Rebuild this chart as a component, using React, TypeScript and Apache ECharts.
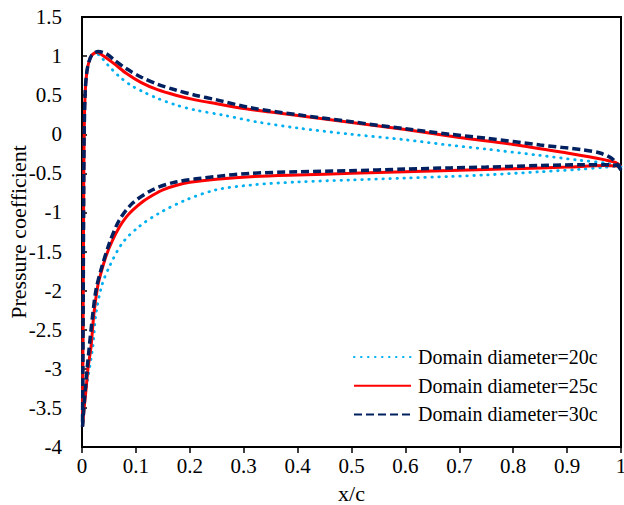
import React, { useEffect, useRef } from "react";
import * as echarts from "echarts";

// Domain diameter = 20c
const upper20X = [0.001, 0.002, 0.003, 0.004, 0.006, 0.009, 0.013, 0.018, 0.025, 0.035, 0.048, 0.069, 0.09, 0.113, 0.14, 0.174, 0.21, 0.261, 0.323, 0.4, 0.5, 0.6, 0.683, 0.75, 0.85, 0.92, 0.973, 1.0];
const upper20Y = [-3.74, -2.5, -1.0, 0.0, 0.55, 0.8, 0.93, 1.01, 1.04, 0.99, 0.886, 0.74, 0.63, 0.545, 0.46, 0.375, 0.31, 0.246, 0.16, 0.08, 0.0, -0.07, -0.14, -0.19, -0.27, -0.33, -0.37, -0.41];
const lower20X = [0.001, 0.004, 0.0105, 0.02, 0.026, 0.037, 0.051, 0.075, 0.106, 0.143, 0.193, 0.249, 0.312, 0.4, 0.497, 0.6, 0.683, 0.75, 0.85, 0.92, 0.973, 1.0];
const lower20Y = [-3.74, -3.45, -3.14, -2.72, -2.29, -1.93, -1.69, -1.39, -1.18, -1.01, -0.84, -0.71, -0.65, -0.61, -0.585, -0.56, -0.54, -0.52, -0.48, -0.45, -0.42, -0.41];

// Domain diameter = 25c
const upper25X = [0.001, 0.002, 0.003, 0.004, 0.006, 0.009, 0.013, 0.018, 0.028, 0.04, 0.06, 0.082, 0.11, 0.14, 0.174, 0.21, 0.25, 0.3, 0.35, 0.4, 0.5, 0.6, 0.7, 0.8, 0.9, 0.95, 0.99, 1.0];
const upper25Y = [-3.74, -2.5, -1.0, 0.0, 0.55, 0.8, 0.93, 1.01, 1.05, 1.0, 0.9, 0.78, 0.66, 0.57, 0.5, 0.44, 0.39, 0.33, 0.285, 0.24, 0.15, 0.06, -0.04, -0.13, -0.24, -0.3, -0.36, -0.41];
const lower25X = [0.001, 0.004, 0.0074, 0.011, 0.0167, 0.022, 0.029, 0.035, 0.045, 0.057, 0.07, 0.082, 0.094, 0.113, 0.131, 0.15, 0.174, 0.2, 0.249, 0.32, 0.4, 0.5, 0.6, 0.7, 0.8, 0.9, 0.97, 1.0];
const lower25Y = [-3.74, -3.5, -3.27, -3.0, -2.72, -2.3, -1.95, -1.78, -1.55, -1.35, -1.18, -1.06, -0.97, -0.86, -0.78, -0.71, -0.655, -0.615, -0.575, -0.54, -0.52, -0.5, -0.48, -0.46, -0.44, -0.42, -0.4, -0.41];

// Domain diameter = 30c
const upper30X = [0.001, 0.002, 0.003, 0.004, 0.006, 0.009, 0.013, 0.018, 0.03, 0.045, 0.06, 0.082, 0.11, 0.14, 0.174, 0.21, 0.25, 0.312, 0.4, 0.5, 0.6, 0.683, 0.75, 0.85, 0.93, 0.961, 0.985, 1.0];
const upper30Y = [-3.74, -2.5, -1.0, 0.0, 0.55, 0.8, 0.93, 1.01, 1.06, 1.03, 0.95, 0.84, 0.73, 0.64, 0.566, 0.5, 0.44, 0.34, 0.25, 0.16, 0.07, 0.0, -0.05, -0.137, -0.2, -0.24, -0.32, -0.46];
const lower30X = [0.001, 0.006, 0.0135, 0.02, 0.026, 0.035, 0.051, 0.069, 0.094, 0.131, 0.174, 0.249, 0.312, 0.4, 0.497, 0.6, 0.683, 0.75, 0.85, 0.93, 0.97, 1.0];
const lower30Y = [-3.74, -3.27, -2.72, -2.3, -1.99, -1.74, -1.39, -1.1, -0.88, -0.71, -0.61, -0.54, -0.5, -0.48, -0.466, -0.445, -0.43, -0.42, -0.4, -0.39, -0.39, -0.4];

const seriesNames = ["Domain diameter=20c", "Domain diameter=25c", "Domain diameter=30c"];

function loop(ux: number[], uy: number[], lx: number[], ly: number[]) {
  const pts: number[][] = [];
  for (let i = lx.length - 1; i >= 1; i--) pts.push([lx[i], ly[i]]);
  for (let i = 0; i < ux.length; i++) pts.push([ux[i], uy[i]]);
  return pts;
}

const FONT = "'Liberation Serif', 'Times New Roman', serif";

export default function App() {
  const ref = useRef<HTMLDivElement>(null);
  useEffect(() => {
    if (!ref.current) return;
    const chart = echarts.init(ref.current, undefined, { renderer: "svg" });
    chart.setOption({
      animation: false,
      textStyle: { fontFamily: FONT },
      grid: {
        left: 82,
        right: 3,
        top: 17,
        bottom: 58,
        show: true,
        borderColor: "#000",
        borderWidth: 2,
        backgroundColor: "transparent",
        containLabel: false,
        outerBoundsMode: "none",
      },
      legend: {
        orient: "vertical",
        left: 353,
        top: 347,
        padding: 0,
        itemWidth: 57,
        itemHeight: 20,
        itemGap: 8.7,
        data: seriesNames,
        textStyle: { fontFamily: FONT, fontSize: 20, color: "#000", padding: [0, 0, 0, 2] },
      },
      xAxis: {
        type: "value",
        min: 0,
        max: 1,
        interval: 0.1,
        name: "x/c",
        nameLocation: "middle",
        nameGap: 35,
        nameMoveOverlap: false,
        nameTextStyle: { fontFamily: FONT, fontSize: 22, color: "#000" },
        axisLine: { show: true, onZero: false, lineStyle: { color: "#000", width: 2 } },
        axisTick: { show: true, inside: false, length: 6, lineStyle: { color: "#000", width: 1.5 } },
        axisLabel: { fontFamily: FONT, fontSize: 21, color: "#000", margin: 8 },
        splitLine: { show: false },
      },
      yAxis: {
        type: "value",
        min: -4,
        max: 1.5,
        interval: 0.5,
        name: "Pressure coefficient",
        nameLocation: "middle",
        nameGap: 53,
        nameMoveOverlap: false,
        nameTextStyle: { fontFamily: FONT, fontSize: 22, color: "#000" },
        axisLine: { show: true, onZero: false, lineStyle: { color: "#000", width: 2 } },
        axisTick: { show: true, inside: true, length: 5, lineStyle: { color: "#000", width: 1.5 } },
        axisLabel: { fontFamily: FONT, fontSize: 21, color: "#000", margin: 20 },
        splitLine: { show: false },
      },
      series: [
        {
          name: seriesNames[0],
          type: "line",
          data: loop(upper20X, upper20Y, lower20X, lower20Y),
          showSymbol: false,
          symbol: "none",
          smooth: 0.3,
          color: "#00B0F0",
          itemStyle: { opacity: 0 },
          lineStyle: { color: "#00B0F0", width: 2.8, type: [0.5, 6.5], cap: "round" },
          z: 2,
        },
        {
          name: seriesNames[1],
          type: "line",
          data: loop(upper25X, upper25Y, lower25X, lower25Y),
          showSymbol: false,
          symbol: "none",
          smooth: 0.3,
          color: "#FF0000",
          itemStyle: { opacity: 0 },
          lineStyle: { color: "#FF0000", width: 3 },
          z: 3,
        },
        {
          name: seriesNames[2],
          type: "line",
          data: loop(upper30X, upper30Y, lower30X, lower30Y),
          showSymbol: false,
          symbol: "none",
          smooth: 0.3,
          color: "#002060",
          itemStyle: { opacity: 0 },
          lineStyle: { color: "#002060", width: 3.5, type: [8, 4] },
          z: 4,
        },
      ],
    });
    return () => chart.dispose();
  }, []);
  return <div ref={ref} style={{ width: 624, height: 505, position: "absolute", left: 0, top: 0 }} />;
}
